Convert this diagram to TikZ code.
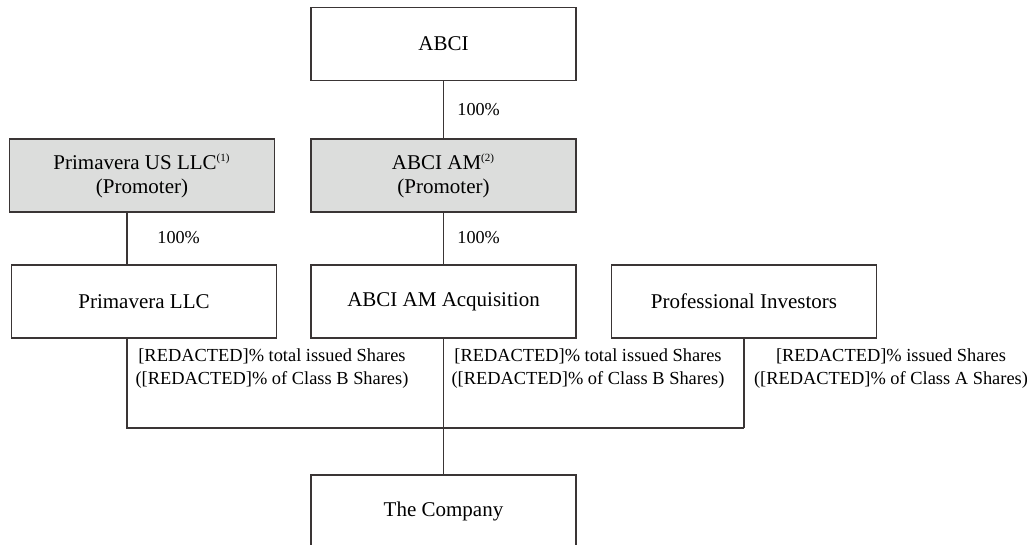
\documentclass[tikz,border=0pt]{standalone}
\usepackage{fontspec}
\setmainfont{Liberation Serif}
\definecolor{ln}{HTML}{3A3535}
\definecolor{gfill}{HTML}{DCDDDC}
\begin{document}
\begin{tikzpicture}[x=0.5pt,y=-0.5pt,
  box/.style={draw=ln,line width=0.7pt,minimum width=132.5pt,minimum height=36.5pt,inner sep=0pt,align=center,font=\fontsize{10.5}{12}\selectfont},
  gbox/.style={box,fill=gfill},
  lbl/.style={align=center,inner sep=0pt,font=\fontsize{9.2}{11.5}\selectfont},
  pct/.style={anchor=west,inner sep=0pt,font=\fontsize{9.1}{11}\selectfont},
  conn/.style={draw=ln,line width=0.7pt}]
\useasboundingbox (0,0) rectangle (1027,545);
\node[box] (abci) at (443.5,44) {ABCI};
\node[gbox] (pus) at (142,175.5) {Primavera US LLC\textsuperscript{\fontsize{5.5}{6}\selectfont(1)}\\(Promoter)};
\node[gbox] (abciam) at (443.5,175.5) {ABCI AM\textsuperscript{\fontsize{5.5}{6}\selectfont(2)}\\(Promoter)};
\node[box] (plc) at (144,301.5) {Primavera LLC};
\node[box] (acq) at (443.5,301.5) {ABCI AM Acquisition};
\node[box] (pi) at (744,301.5) {Professional Investors};
\node[box] (co) at (443.5,511.5) {The Company};
\coordinate (lx) at (127,0);
\coordinate (bus) at (0,428);
\draw[conn] (abci) -- (abciam);
\draw[conn] (pus.south -| lx) -- (plc.north -| lx);
\draw[conn] (abciam) -- (acq);
\draw[conn] (plc.south -| lx) -- (bus -| lx) -- (bus -| pi.south);
\draw[conn] (pi) -- (bus -| pi.south);
\draw[conn] (acq) -- (co);
\node[pct] (p1) at (457,110) {100\%};
\node[pct] (p2) at (157,238) {100\%};
\node[pct] (p3) at (457,238) {100\%};
\node[lbl] (l1) at (272,369) {[REDACTED]\% total issued Shares\\([REDACTED]\% of Class B Shares)};
\node[lbl] (l2) at (588,369) {[REDACTED]\% total issued Shares\\([REDACTED]\% of Class B Shares)};
\node[lbl] (l3) at (891,369) {[REDACTED]\% issued Shares\\([REDACTED]\% of Class A Shares)};
\end{tikzpicture}
\end{document}
